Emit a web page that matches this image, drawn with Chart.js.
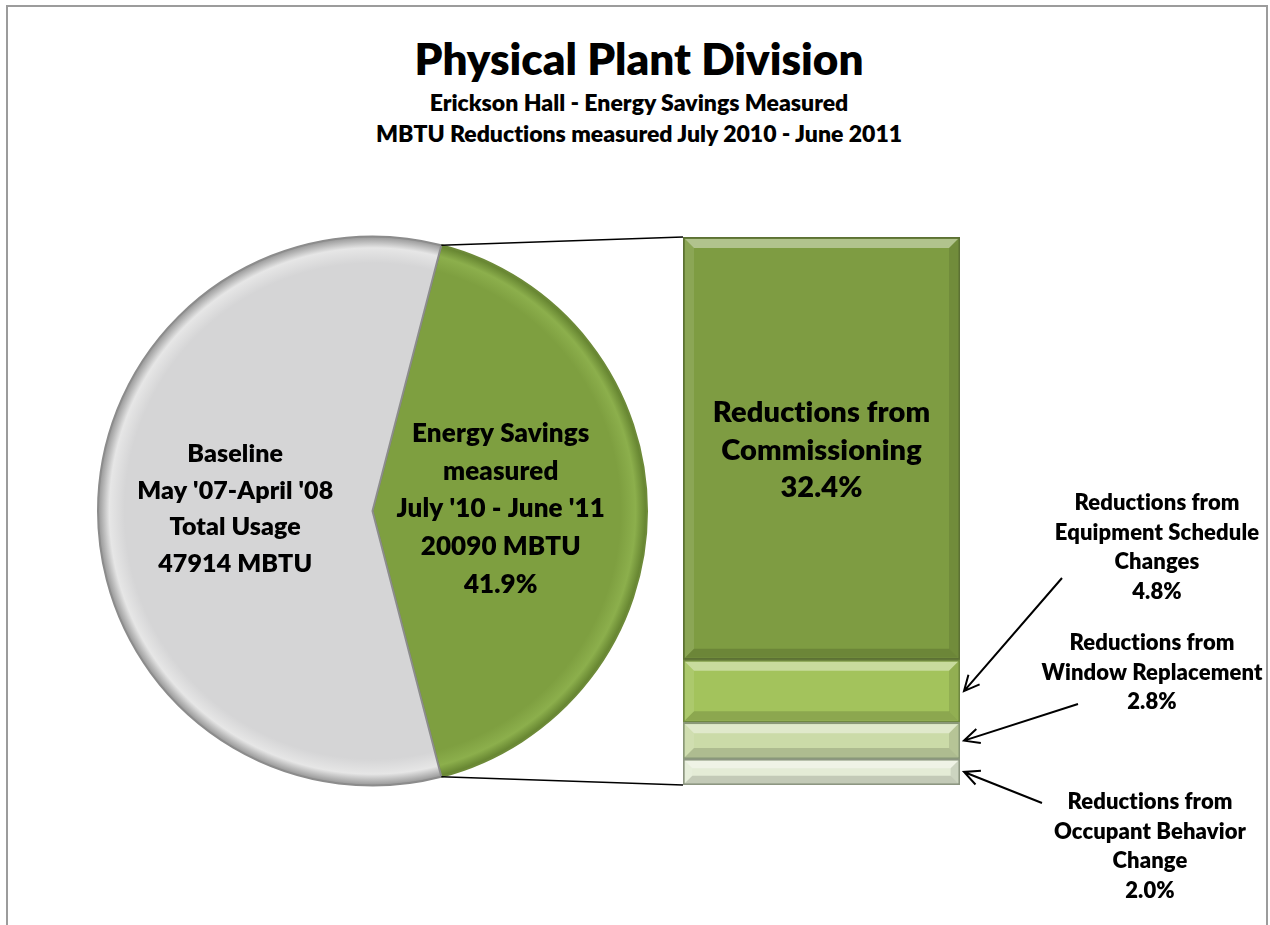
<!DOCTYPE html>
<html>
<head>
<meta charset="utf-8">
<title>Physical Plant Division</title>
<script src="https://cdn.jsdelivr.net/npm/chart.js@4.4.1/dist/chart.umd.min.js"></script>
<style>
  html, body { margin: 0; padding: 0; background: #fff; }
  body { width: 1270px; height: 925px; position: relative; overflow: hidden; font-family: Lato, "Open Sans", sans-serif; }
  .frame { position: absolute; left: 6px; top: 5px; width: 1262px; height: 960px; border: 2px solid #9c9c9c; border-bottom: none; box-sizing: border-box; }
  .line { position: absolute; left: 4px; width: 1270px; text-align: center; font-weight: 800; color: #000; white-space: nowrap; font-variant-ligatures: none; }
  .t1 { top: 33px; font-size: 44px; line-height: 50px; }
  .t2 { top: 87px; font-size: 23px; line-height: 30px; }
  .t3 { top: 118px; font-size: 23px; line-height: 30px; }
  canvas { position: absolute; left: 0; top: 0; }
</style>
</head>
<body>
<div class="frame"></div>
<div class="line t1">Physical Plant Division</div>
<div class="line t2">Erickson Hall - Energy Savings Measured</div>
<div class="line t3">MBTU Reductions measured July 2010 - June 2011</div>
<canvas id="pie" width="1270" height="925"></canvas>
<canvas id="bar" width="1270" height="925"></canvas>

<script>
// pie: saved energy vs. what is left of the baseline
const baselineMBTU = 47914;
const savedMBTU = 20090;
const pieLabels = ['Energy Savings', 'Baseline'];
const pieValues = [savedMBTU, baselineMBTU - savedMBTU];

// bar: how the savings break down (% of baseline), bottom to top
const barLabels = ['Occupant Behavior Change', 'Window Replacement', 'Equipment Schedule Changes', 'Commissioning'];
const barLabelLines = [['Occupant Behavior', 'Change'], ['Window Replacement'], ['Equipment Schedule', 'Changes'], ['Commissioning']];
const barValues = [2.0, 2.8, 4.8, 32.4];

const savedPct = (savedMBTU / baselineMBTU * 100).toFixed(1);
const barTotal = barValues.reduce((a, b) => a + b, 0);

const FONT = 'Lato, "Open Sans", sans-serif';
const pieStyle = [
  { fill: '#7e9f40', rim: '#8caf4c', edge: '#5f7d2c' },
  { fill: '#d5d5d6', rim: '#e6e6e6', edge: '#8e8e8e' }
];
const barFill = ['#e4ecd6', '#cbdba8', '#a3c35c', '#7e9c42'];
const barEdge = ['#8d9682', '#8a9878', '#6f8840', '#5c7134'];

function pieFill(ctx) {
  const s = pieStyle[ctx.dataIndex];
  const area = ctx.chart.chartArea;
  if (!area) return s.fill;
  const cx = (area.left + area.right) / 2, cy = (area.top + area.bottom) / 2;
  const r = Math.min(area.width, area.height) / 2;
  const g = ctx.chart.ctx.createRadialGradient(cx, cy, 0, cx, cy, r);
  g.addColorStop(0, s.fill);
  g.addColorStop(0.9, s.fill);
  g.addColorStop(0.955, s.rim);
  g.addColorStop(1, s.edge);
  return g;
}

function drawLines(ctx, lines, cx, cy, size, gap) {
  ctx.save();
  ctx.font = '800 ' + size + 'px ' + FONT;
  ctx.letterSpacing = '0.1px'; // keeps "ti" from joining
  ctx.fillStyle = '#000';
  ctx.textAlign = 'center';
  ctx.textBaseline = 'middle';
  const top = cy - (lines.length - 1) * gap / 2;
  lines.forEach((t, i) => ctx.fillText(t, cx, top + i * gap));
  ctx.restore();
}

const pieText = {
  id: 'pieText',
  afterDatasetsDraw(chart) {
    const arcs = chart.getDatasetMeta(0).data;
    const sv = arcs[0].getCenterPoint();
    const bl = arcs[1].getCenterPoint();
    drawLines(chart.ctx, ['Energy Savings', 'measured', "July '10 - June '11", savedMBTU + ' MBTU', savedPct + '%'],
      sv.x - 9, sv.y - 2, 26, 37.7);
    drawLines(chart.ctx, ['Baseline', "May '07-April '08", 'Total Usage', baselineMBTU + ' MBTU'],
      bl.x, bl.y - 2, 25, 36.5);
  }
};

const pieChart = new Chart(document.getElementById('pie'), {
  type: 'pie',
  data: {
    labels: pieLabels,
    datasets: [{
      data: pieValues,
      backgroundColor: pieFill,
      borderColor: ['#6d8a38', '#8c8c8c'],
      borderWidth: 2
    }]
  },
  options: {
    responsive: false,
    animation: false,
    // turn the savings slice so it faces the bar
    rotation: 90 - savedMBTU / baselineMBTU * 180,
    layout: { padding: { left: 97, right: 622, top: 235, bottom: 138 } },
    plugins: { legend: { display: false }, tooltip: { enabled: false } }
  },
  plugins: [pieText]
});

// open arrow head at (x2, y2)
function arrow(ctx, x1, y1, x2, y2) {
  const a = Math.atan2(y2 - y1, x2 - x1);
  const h = 17, w = 0.45;
  ctx.beginPath();
  ctx.moveTo(x1, y1);
  ctx.lineTo(x2, y2);
  ctx.moveTo(x2 - h * Math.cos(a - w), y2 - h * Math.sin(a - w));
  ctx.lineTo(x2, y2);
  ctx.lineTo(x2 - h * Math.cos(a + w), y2 - h * Math.sin(a + w));
  ctx.stroke();
}

// callouts right of the bar: label centre and arrow tail
const callouts = [
  { index: 2, cx: 1157, top: 503, tail: [1062, 578] },
  { index: 1, cx: 1152, top: 643, tail: [1078, 704] },
  { index: 0, cx: 1150, top: 802, tail: [1042, 803] }
];

const barDecor = {
  id: 'barDecor',
  afterDatasetsDraw(chart) {
    const ctx = chart.ctx;
    // bevel on each block
    chart.data.datasets.forEach((ds, i) => {
      chart.getDatasetMeta(i).data.forEach(el => {
        const p = el.getProps(['x', 'y', 'base', 'width'], true);
        const l = p.x - p.width / 2 + 2, r = p.x + p.width / 2 - 2;
        const t = Math.min(p.y, p.base) + 2, b = Math.max(p.y, p.base) - 2;
        const d = Math.min(9, (b - t) / 3);
        const band = (pts, c) => {
          ctx.beginPath();
          pts.forEach((q, k) => k ? ctx.lineTo(q[0], q[1]) : ctx.moveTo(q[0], q[1]));
          ctx.closePath();
          ctx.fillStyle = c;
          ctx.fill();
        };
        band([[l, t], [r, t], [r - d, t + d], [l + d, t + d]], 'rgba(255,255,255,0.4)');
        band([[l, t], [l + d, t + d], [l + d, b - d], [l, b]], 'rgba(255,255,255,0.10)');
        band([[r, t], [r - d, t + d], [r - d, b - d], [r, b]], 'rgba(0,0,0,0.10)');
        band([[l, b], [l + d, b - d], [r - d, b - d], [r, b]], 'rgba(0,0,0,0.14)');
      });
    });
  },
  afterDraw(chart) {
    const ctx = chart.ctx;
    const n = chart.data.datasets.length;
    const topBar = chart.getDatasetMeta(n - 1).data[0];
    const lowBar = chart.getDatasetMeta(0).data[0];
    const left = topBar.x - topBar.width / 2;
    const right = topBar.x + topBar.width / 2;

    // connectors from the savings slice to the bar
    const arc = pieChart.getDatasetMeta(0).data[0];
    const R = arc.outerRadius;
    ctx.save();
    ctx.strokeStyle = '#000';
    ctx.lineWidth = 1.6;
    ctx.beginPath();
    ctx.moveTo(arc.x + R * Math.cos(arc.startAngle), arc.y + R * Math.sin(arc.startAngle));
    ctx.lineTo(left, topBar.y);
    ctx.moveTo(arc.x + R * Math.cos(arc.endAngle), arc.y + R * Math.sin(arc.endAngle));
    ctx.lineTo(left, lowBar.base);
    ctx.stroke();
    ctx.restore();

    // label inside the commissioning block
    drawLines(ctx, ['Reductions from', ...barLabelLines[n - 1], barValues[n - 1].toFixed(1) + '%'],
      topBar.x, (topBar.y + topBar.base) / 2 + 2, 29, 37.5);

    // callouts with arrows
    ctx.save();
    ctx.strokeStyle = '#000';
    ctx.lineWidth = 2;
    callouts.forEach(c => {
      const el = chart.getDatasetMeta(c.index).data[0];
      const lines = ['Reductions from', ...barLabelLines[c.index], barValues[c.index].toFixed(1) + '%'];
      drawLines(ctx, lines, c.cx, c.top + (lines.length - 1) * 29.5 / 2, 22, 29.5);
      arrow(ctx, c.tail[0], c.tail[1], right + 4, (el.y + el.base) / 2);
    });
    ctx.restore();
  }
};

new Chart(document.getElementById('bar'), {
  type: 'bar',
  data: {
    labels: ['Savings'],
    datasets: barLabels.map((name, i) => ({
      label: name,
      data: [barValues[i]],
      backgroundColor: barFill[i],
      borderColor: barEdge[i],
      borderWidth: 2,
      borderSkipped: false,
      categoryPercentage: 1,
      barPercentage: 1
    }))
  },
  options: {
    responsive: false,
    animation: false,
    layout: { padding: { left: 683, right: 310, top: 237, bottom: 140 } },
    scales: {
      x: { stacked: true, display: false },
      y: { stacked: true, display: false, min: 0, max: barTotal }
    },
    plugins: { legend: { display: false }, tooltip: { enabled: false } }
  },
  plugins: [barDecor]
});
</script>
</body>
</html>
